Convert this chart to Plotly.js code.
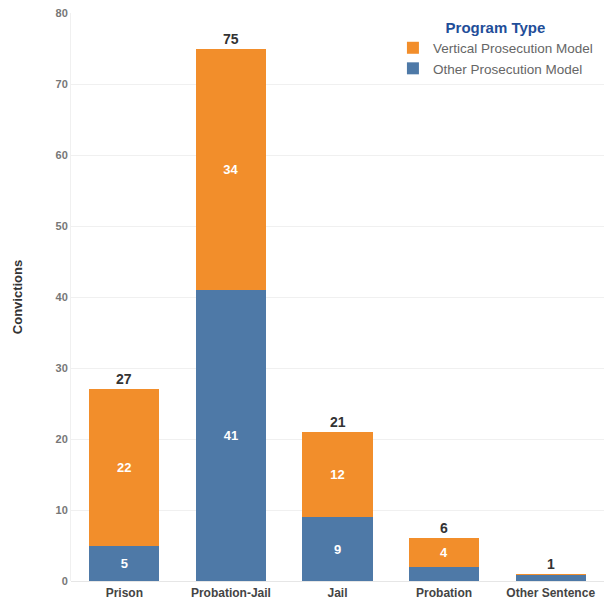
<!DOCTYPE html>
<html>
<head>
<meta charset="utf-8">
<script src="https://cdn.plot.ly/plotly-3.0.1.min.js"></script>
<style>html,body{margin:0;padding:0;background:#fff;}#chart{width:607px;height:601px;}</style>
</head>
<body>
<div id="chart"></div>
<script>
const categories = ["Prison", "Probation-Jail", "Jail", "Probation", "Other Sentence"];
const otherModel = [5, 41, 9, 2, 0.8];
const verticalModel = [22, 34, 12, 4, 0.2];
const yTicks = [0, 10, 20, 30, 40, 50, 60, 70, 80];

const orange = "#F28E2B";
const blue = "#4E79A7";
const lbl = v => v >= 3 ? String(Math.round(v)) : "";

const traceOther = {
  type: "bar", name: "Other Prosecution Model", x: categories, y: otherModel,
  marker: {color: blue}, text: otherModel.map(lbl), textposition: "inside",
  insidetextanchor: "middle", textangle: 0,
  textfont: {color: "#fff", size: 13, family: "Liberation Sans, Arial", weight: "bold"},
  hoverinfo: "x+y"
};
const traceVert = {
  type: "bar", name: "Vertical Prosecution Model", x: categories, y: verticalModel,
  marker: {color: orange}, text: verticalModel.map(lbl), textposition: "inside",
  insidetextanchor: "middle", textangle: 0,
  textfont: {color: "#fff", size: 13, family: "Liberation Sans, Arial", weight: "bold"},
  hoverinfo: "x+y"
};

const totals = categories.map((c, i) => otherModel[i] + verticalModel[i]);
const annotations = categories.map((c, i) => ({
  x: c, y: totals[i], text: String(Math.round(totals[i])), showarrow: false,
  yanchor: "bottom", yshift: 0,
  font: {size: 14, color: "#333", family: "Liberation Sans, Arial", weight: "bold"}
}));

const layout = {
  width: 607, height: 601,
  margin: {l: 71, r: 3, t: 13, b: 20},
  paper_bgcolor: "#fff", plot_bgcolor: "#fff",
  barmode: "stack", bargap: 0.34,
  font: {family: "Liberation Sans, Arial", color: "#555"},
  xaxis: {
    showgrid: false, zeroline: false, showline: false, ticks: "",
    ticklabelstandoff: 3,
    tickfont: {size: 12, color: "#444", weight: "bold"}
  },
  yaxis: {
    range: [0, 80], tickvals: yTicks, ticktext: yTicks.map(String),
    showgrid: true, gridcolor: "#f0f0f0", zeroline: true, zerolinecolor: "#e6e6e6",
    showline: true, linecolor: "#f0f0f0", ticks: "", ticklen: 0,
    tickfont: {size: 11, color: "#777", weight: "bold"},
    title: {text: "Convictions", standoff: 29, font: {size: 13, color: "#333", weight: "bold"}}
  },
  legend: {
    x: 0.604, xanchor: "left", y: 1.0, yanchor: "top",
    bgcolor: "#fff", borderwidth: 0, traceorder: "reversed",
    title: {text: "Program Type", side: "top center", font: {size: 15, color: "#1F4E99", weight: "bold"}},
    font: {size: 13.5, color: "#666"}, itemwidth: 30, tracegroupgap: 0
  },
  annotations: annotations,
  showlegend: true
};

Plotly.newPlot("chart", [traceOther, traceVert], layout, {displayModeBar: false, staticPlot: true});
</script>
</body>
</html>
